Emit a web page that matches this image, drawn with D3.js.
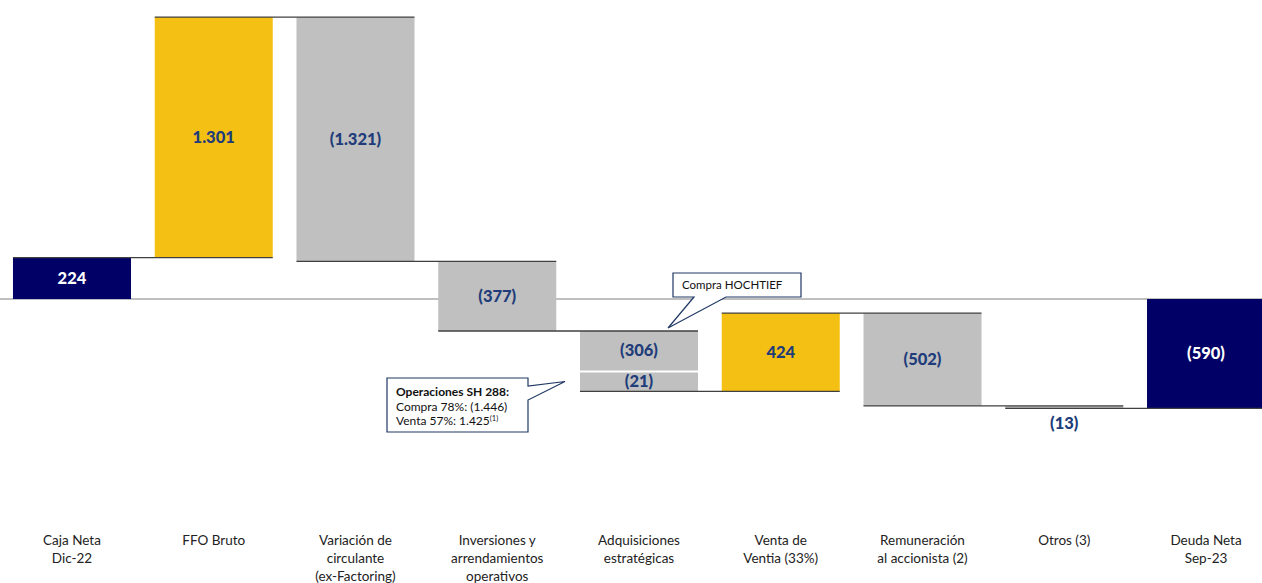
<!DOCTYPE html>
<html><head><meta charset="utf-8">
<script src="https://cdn.jsdelivr.net/npm/d3@7"></script>
<style>html,body{margin:0;padding:0;background:#fff;overflow:hidden}svg{display:block}</style>
</head><body>
<script>
const categories = [["Caja Neta","Dic-22"],["FFO Bruto"],["Variación de","circulante","(ex-Factoring)"],["Inversiones y","arrendamientos","operativos"],["Adquisiciones","estratégicas"],["Venta de","Ventia (33%)"],["Remuneración","al accionista (2)"],["Otros (3)"],["Deuda Neta","Sep-23"]];
const values = [224, 1301, -1321, -377, -327, 424, -502, -13, -590];
const kinds = ["total","up","down","down","down","up","down","down","total"];
const valueLabels = ["224","1.301","(1.321)","(377)","(306)","424","(502)","(13)","(590)"];
const adqSegLabels = ["(306)","(21)"];
const calloutHochtief = ["Compra HOCHTIEF"];
const calloutSH = ["Operaciones SH 288:","Compra 78%: (1.446)","Venta 57%: 1.425"];

const W = 1262, H = 583;
const colors = {total:"#000066", up:"#F5C014", down:"#C0C0C0"};
const labelColor = "#203C7A";
const font = "Lato, 'Open Sans', sans-serif";

const svg = d3.select("body").append("svg").attr("width", W).attr("height", H);

const x = d3.scaleBand().domain(d3.range(categories.length)).range([1.1, 1276.9]).paddingInner(0.1675).paddingOuter(0.08375);
const bw = x.bandwidth();
const y = d3.scaleLinear().domain([1600, -1000]).range([3.2, 483.9]);

let run = 0;
const bars = values.map((v, i) => {
  let y0, y1;
  if (kinds[i] === "total") { y0 = 0; y1 = v; run = v; }
  else { y0 = run; y1 = run + v; run = y1; }
  return {i, v, y0, y1, kind: kinds[i]};
});
let cum = 0;
const ends = values.map((v,i) => { if (i===0) cum=v; else if (kinds[i]!=="total") cum+=v; return cum; });

svg.append("line").attr("x1", 0).attr("x2", W).attr("y1", y(0)).attr("y2", y(0))
  .attr("stroke", "#BFBFBF").attr("stroke-width", 2);

svg.selectAll("rect.bar").data(bars).join("rect")
  .attr("x", d => x(d.i)).attr("width", bw)
  .attr("y", d => y(Math.max(d.y0, d.y1)))
  .attr("height", d => Math.max(1, Math.abs(y(d.y0) - y(d.y1))))
  .attr("fill", d => colors[d.kind]);

const adq = bars[4];
const splitShare = 0.67;
const divY = y(adq.y0) + splitShare * (y(adq.y1) - y(adq.y0));
svg.append("line").attr("x1", x(4) - 5).attr("x2", x(4) + bw).attr("y1", divY).attr("y2", divY)
  .attr("stroke", "#fff").attr("stroke-width", 2);

for (let i = 0; i < values.length - 1; i++) {
  const lv = ends[i];
  svg.append("line").attr("x1", x(i)).attr("x2", x(i+1) + bw)
    .attr("y1", y(lv)).attr("y2", y(lv))
    .attr("stroke", "#404040").attr("stroke-width", 1.3);
}

bars.forEach((d, i) => {
  if (i === 4) return;
  const top = y(Math.max(d.y0, d.y1)), bot = y(Math.min(d.y0, d.y1));
  let cy = (top + bot) / 2;
  if (bot - top < 20) cy = bot + 15;
  svg.append("text").attr("x", x(i) + bw/2).attr("y", cy).attr("dy", "0.35em")
    .attr("text-anchor", "middle").attr("font-family", font).attr("font-weight", 900)
    .attr("font-size", 16.5).attr("fill", d.kind === "total" ? "#fff" : labelColor)
    .text(valueLabels[i]);
});
{
  const top = y(adq.y0), bot = y(adq.y1);
  [[(top + divY)/2 - 1, adqSegLabels[0]], [(divY + bot)/2, adqSegLabels[1]]].forEach(([cy, t]) => {
    svg.append("text").attr("x", x(4) + bw/2).attr("y", cy).attr("dy", "0.35em")
      .attr("text-anchor", "middle").attr("font-family", font).attr("font-weight", 900)
      .attr("font-size", 16.5).attr("fill", labelColor).text(t);
  });
}

categories.forEach((lines, i) => {
  const t = svg.append("text").attr("x", x(i) + bw/2).attr("y", 545)
    .attr("text-anchor", "middle").attr("font-family", font).attr("font-size", 13.5).attr("fill", "#222");
  lines.forEach((l, k) => t.append("tspan").attr("x", x(i) + bw/2).attr("y", 545 + k*18).text(l));
});

{
  const bx = x(4) + 93, by = 273, bwid = 128, bh = 24;
  const tipX = x(4) + 88, tipY = y(ends[3]) - 3;
  svg.append("path").attr("d", `M${bx},${by} H${bx+bwid} V${by+bh} H${bx+53} L${tipX},${tipY} L${bx+21},${by+bh} H${bx} Z`)
    .attr("fill", "#fff").attr("stroke", "#1F3864").attr("stroke-width", 1.2);
  svg.append("text").attr("x", bx + 9).attr("y", by + 16).attr("font-family", font).attr("font-size", 11.5)
    .attr("fill", "#111").text(calloutHochtief[0]);
}
{
  const bx = 387, by = 378, bwid = 141, bh = 54;
  const tipX = x(4) - 15, tipY = divY + 10;
  svg.append("path").attr("d", `M${bx},${by} H${bx+bwid} V${by+8} L${tipX},${tipY} L${bx+bwid},${by+22} V${by+bh} H${bx} Z`)
    .attr("fill", "#fff").attr("stroke", "#1F3864").attr("stroke-width", 1.2);
  const t = svg.append("text").attr("font-family", font).attr("font-size", 12).attr("fill", "#111");
  t.append("tspan").attr("x", bx + 9).attr("y", by + 18).attr("font-weight", 700).text(calloutSH[0]);
  t.append("tspan").attr("x", bx + 9).attr("y", by + 33).text(calloutSH[1]);
  t.append("tspan").attr("x", bx + 9).attr("y", by + 47).text(calloutSH[2]);
  t.append("tspan").attr("dy", -4).attr("font-size", 7.5).text("(1)");
}
</script>
</body></html>
